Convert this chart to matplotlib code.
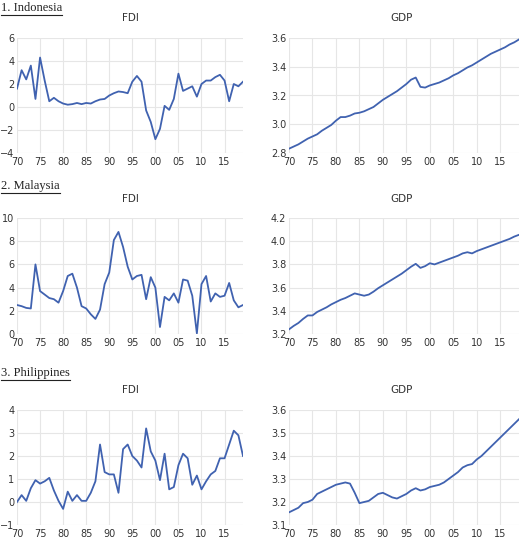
import matplotlib
matplotlib.use("Agg")
import matplotlib.pyplot as plt
from matplotlib.lines import Line2D
import numpy as np

years = list(range(1970, 2020))
countries = ["1. Indonesia", "2. Malaysia", "3. Philippines"]

idn_fdi = [1.6,3.2,2.4,3.6,0.7,4.3,2.3,0.5,0.8,0.5,0.3,0.2,0.25,0.35,0.25,0.35,0.3,0.5,0.65,0.7,
           1.0,1.2,1.35,1.3,1.2,2.2,2.7,2.2,-0.3,-1.3,-2.8,-1.9,0.1,-0.25,0.7,2.9,1.4,1.6,1.8,0.9,
           2.0,2.3,2.3,2.6,2.8,2.3,0.5,2.0,1.8,2.2]
mys_fdi = [2.5,2.4,2.25,2.2,6.0,3.7,3.4,3.1,3.0,2.7,3.7,5.0,5.2,4.0,2.4,2.2,1.7,1.3,2.1,4.3,
           5.3,8.1,8.8,7.5,5.8,4.7,5.0,5.1,3.0,4.9,4.0,0.6,3.2,2.9,3.5,2.7,4.7,4.6,3.3,0.05,
           4.3,5.0,2.8,3.5,3.2,3.3,4.4,2.9,2.3,2.5]
phl_fdi = [0.0,0.3,0.05,0.6,0.95,0.8,0.9,1.05,0.5,0.05,-0.3,0.45,0.05,0.3,0.05,0.05,0.4,0.9,2.5,1.3,
           1.2,1.2,0.4,2.3,2.5,2.0,1.8,1.5,3.2,2.2,1.8,0.95,2.1,0.55,0.65,1.6,2.1,1.9,0.75,1.15,
           0.55,0.9,1.2,1.35,1.9,1.9,2.5,3.1,2.9,2.0]
idn_gdp = [2.83,2.845,2.86,2.88,2.90,2.915,2.93,2.955,2.975,2.995,3.025,3.05,3.05,3.06,3.075,3.08,3.09,3.105,3.12,3.145,
           3.17,3.19,3.21,3.23,3.255,3.28,3.31,3.325,3.26,3.255,3.27,3.28,3.29,3.305,3.32,3.34,3.355,3.375,3.395,3.41,
           3.43,3.45,3.47,3.49,3.505,3.52,3.535,3.555,3.57,3.59]
mys_gdp = [3.24,3.27,3.295,3.33,3.36,3.36,3.39,3.41,3.43,3.455,3.475,3.495,3.51,3.53,3.55,3.54,3.53,3.54,3.565,3.595,
           3.62,3.645,3.67,3.695,3.72,3.75,3.78,3.805,3.77,3.785,3.81,3.80,3.815,3.83,3.845,3.86,3.875,3.895,3.905,3.895,
           3.915,3.93,3.945,3.96,3.975,3.99,4.005,4.02,4.04,4.055]
phl_gdp = [3.155,3.165,3.175,3.195,3.2,3.21,3.235,3.245,3.255,3.265,3.275,3.28,3.285,3.28,3.24,3.195,3.2,3.205,3.22,3.235,
           3.24,3.23,3.22,3.215,3.225,3.235,3.25,3.26,3.25,3.255,3.265,3.27,3.275,3.285,3.3,3.315,3.33,3.35,3.36,3.365,
           3.385,3.4,3.42,3.44,3.46,3.48,3.5,3.52,3.54,3.56]

fdi_series = [idn_fdi, mys_fdi, phl_fdi]
gdp_series = [idn_gdp, mys_gdp, phl_gdp]
fdi_ticks = [[-4,-2,0,2,4,6], [0,2,4,6,8,10], [-1,0,1,2,3,4]]
gdp_ticks = [[2.8,3.0,3.2,3.4,3.6], [3.2,3.4,3.6,3.8,4.0,4.2], [3.1,3.2,3.3,3.4,3.5,3.6]]
xticks = list(range(1970, 2020, 5))
xlabels = ["%02d" % (y % 100) for y in xticks]

W, H = 520, 540
fig = plt.figure(figsize=(W/100, H/100), dpi=100)
color = "#4062b0"

rows = [(38, 153, 8, 18), (218, 334, 186, 199), (410, 525, 373, 390)]

def style(ax, yt, fmt):
    ax.set_xlim(1970, 2019)
    ax.set_ylim(yt[0], yt[-1])
    ax.set_xticks(xticks)
    ax.set_xticklabels(xlabels)
    ax.set_yticks(yt)
    ax.set_yticklabels([(fmt % v).replace("-", "\u2212") for v in yt])
    for s in ax.spines.values():
        s.set_visible(False)
    ax.grid(True, color="#e6e6e6", linewidth=0.8)
    ax.set_axisbelow(True)
    ax.tick_params(axis="y", length=0, labelsize=7, colors="#333333", pad=2)
    ax.tick_params(axis="x", length=0, labelsize=7, colors="#333333", pad=3)

for i in range(3):
    top, bot, hy, ty = rows[i]
    h = (bot - top) / H
    b = 1 - bot / H
    ax1 = fig.add_axes([17/W, b, (243-17)/W, h])
    ax1.plot(years, fdi_series[i], color=color, lw=1.3)
    style(ax1, fdi_ticks[i], "%d")
    ax2 = fig.add_axes([289/W, b, (519-289)/W, h])
    ax2.plot(years, gdp_series[i], color=color, lw=1.3)
    style(ax2, gdp_ticks[i], "%.1f")
    fig.text(130/W, 1 - ty/H, "FDI", ha="center", va="center", fontsize=7.5, color="#333333")
    fig.text(402/W, 1 - ty/H, "GDP", ha="center", va="center", fontsize=7.5, color="#333333")
    t = fig.text(1/W, 1 - hy/H, countries[i], ha="left", va="center", fontsize=9,
                 family="Liberation Serif", color="#222222")
    fig.canvas.draw()
    bb = t.get_window_extent()
    fig.add_artist(Line2D([bb.x0/W, bb.x1/W], [bb.y0/H - 1/H, bb.y0/H - 1/H],
                          transform=fig.transFigure, color="#222222", lw=0.8))

fig.savefig("out.png", dpi=100)
